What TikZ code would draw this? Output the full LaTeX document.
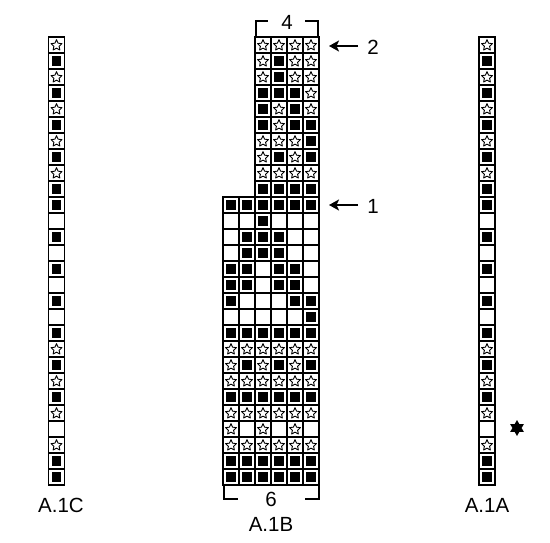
\documentclass[tikz,border=0pt]{standalone}
\usepackage{fontspec}
\setmainfont{Liberation Sans}
\usetikzlibrary{shapes.geometric,arrows.meta}
\newcommand\mycell[3]{%
  \draw[cellbox] (#1,#2) rectangle ++(16,16);
  \if#3B \fill (#1+3.2,#2+3.2) rectangle ++(9.6,9.6);\fi
  \if#3S \node[starsym] at (#1+8,#2+8.4) {};\fi
}
\begin{document}
\begin{tikzpicture}[x=1pt,y=-1pt,
  cellbox/.style={draw=black,line width=1.2pt},
  starsym/.style={star,star points=5,star point ratio=2.1,draw=black,line width=0.9pt,line join=round,minimum size=11.5pt,inner sep=0pt},
  brk/.style={line width=2pt,line cap=rect},
  lbl/.style={font=\fontsize{20.5}{24}\selectfont,inner sep=0pt},
  arr/.style={line width=2.3pt,-{Stealth[length=10pt,width=11pt,inset=2.5pt]}}]
\useasboundingbox (0,0) rectangle (550,543);
% A.1C and A.1A
\def\sidecol{S,B,S,B,S,B,S,B,S,B,B,N,B,N,B,N,B,N,B,S,B,S,B,S,N,S,B,B}
\foreach \s [count=\i from 0] in \sidecol {\mycell{48.5}{37+16*\i}{\s}}
\foreach \s [count=\i from 0] in \sidecol {\mycell{479}{37+16*\i}{\s}}
% A.1B upper
\foreach \row [count=\r from 0] in {{S,S,S,S},{S,B,S,S},{S,B,S,S},{B,B,B,S},{B,S,B,S},{B,S,B,B},{S,S,S,B},{S,B,S,B},{S,S,S,S},{B,B,B,B}}
  {\foreach \s [count=\c from 0] in \row {\mycell{255+16*\c}{37+16*\r}{\s}}}
% A.1B lower
\foreach \row [count=\r from 0] in {{B,B,B,B,B,B},{N,N,B,N,N,N},{N,B,B,B,N,N},{N,B,B,B,N,N},{B,B,N,B,B,N},{B,B,N,B,B,N},{B,N,N,N,B,B},{N,N,N,N,N,B},{B,B,B,B,B,B},{S,S,S,S,S,S},{S,B,S,B,S,B},{S,S,S,S,S,S},{B,B,B,B,B,B},{S,S,S,S,S,S},{S,N,S,N,S,N},{S,S,S,S,S,S},{B,B,B,B,B,B},{B,B,B,B,B,B}}
  {\foreach \s [count=\c from 0] in \row {\mycell{223+16*\c}{197+16*\r}{\s}}}
% brackets
\node[lbl] (n4) at (287,22) {4};
\draw[brk] (256,37) -- (256,21) -- (267,21);
\draw[brk] (306,21) -- (318,21) -- (318,37);
\node[lbl] (n6) at (271,499) {6};
\draw[brk] (224,485) -- (224,499) -- (237,499);
\draw[brk] (306,499) -- (319,499) -- (319,485);
% arrows
\node[lbl] (n2) at (373,47) {2};
\coordinate (a2) at (358,46);
\coordinate (b2) at (329,46);
\draw[arr] (a2) -- (b2);
\node[lbl] (n1) at (373,206) {1};
\coordinate (a1) at (358,205);
\coordinate (b1) at (329,205);
\draw[arr] (a1) -- (b1);
% labels
\node[lbl] (lc) at (61,505) {A.1C};
\node[lbl] (lb) at (271,524) {A.1B};
\node[lbl] (la) at (487,505) {A.1A};
% six-point star
\node[star,star points=6,star point ratio=1.75,fill=black,minimum size=16pt,inner sep=0pt] (st) at (517,428) {};
\end{tikzpicture}
\end{document}
